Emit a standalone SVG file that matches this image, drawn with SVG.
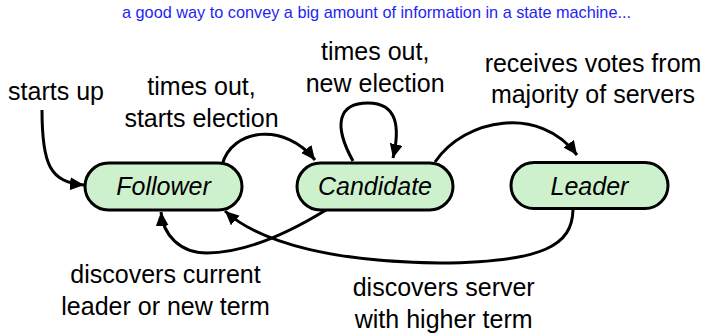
<svg xmlns="http://www.w3.org/2000/svg" width="705" height="336" viewBox="0 0 705 336">
<style>
.node rect{fill:#cdf1cd;stroke:#000;stroke-width:3}
.node text{font-family:"Liberation Sans",Arial,sans-serif;font-size:25px;font-style:italic;text-anchor:middle;fill:#000}
.lbl{font-family:"Liberation Sans",Arial,sans-serif;font-size:25px;text-anchor:middle;fill:#000}
.title{font-family:"Liberation Sans",Arial,sans-serif;font-size:17px;fill:#1f1ff5}
#connectors path{fill:none;stroke:#000;stroke-width:3;marker-end:url(#arr)}
</style>
<defs>
<marker id="arr" markerUnits="userSpaceOnUse" markerWidth="16" markerHeight="14" refX="14" refY="6.5" orient="auto">
<path d="M0,0 L14,6.5 L0,13 z" fill="#000"/>
</marker>
</defs>
<rect width="705" height="336" fill="#fff"/>
<text class="title" x="122" y="17.5" textLength="509" lengthAdjust="spacingAndGlyphs">a good way to convey a big amount of information in a state machine...</text>
<g id="connectors">
<path d="M42,110 C42,165 50,182 84,185"/>
<path d="M222,165 C232,128 285,122 315,160"/>
<path d="M353,161 C333,125 338,103 368,103 C398,103 400,128 393,158"/>
<path d="M435,162 C465,118 540,105 577,155"/>
<path d="M326,210 C290,232 245,253 207,253 C180,253 163,235 161,212"/>
<path d="M573,210 C572,245 545,262 440,263 C340,262 262,245 225,211"/>
</g>
<g id="follower" class="node">
<rect x="85" y="163" width="157" height="47" rx="23.5"/>
<text x="163.5" y="195">Follower</text>
</g>
<g id="candidate" class="node">
<rect x="297" y="163" width="156" height="47" rx="23.5"/>
<text x="375" y="195">Candidate</text>
</g>
<g id="leader" class="node">
<rect x="511" y="162.5" width="157" height="46" rx="23"/>
<text x="589.5" y="195">Leader</text>
</g>
<g id="labels">
<text class="lbl" x="56" y="100">starts up</text>
<text class="lbl" x="201.5" y="95">times out,</text>
<text class="lbl" x="201.5" y="127.3">starts election</text>
<text class="lbl" x="375.2" y="60">times out,</text>
<text class="lbl" x="375.2" y="91.7">new election</text>
<text class="lbl" x="593" y="72.3">receives votes from</text>
<text class="lbl" x="593" y="103.3">majority of servers</text>
<text class="lbl" x="165.5" y="283.3">discovers current</text>
<text class="lbl" x="165.5" y="315">leader or new term</text>
<text class="lbl" x="443.7" y="296">discovers server</text>
<text class="lbl" x="443.7" y="327.7">with higher term</text>
</g>
</svg>
